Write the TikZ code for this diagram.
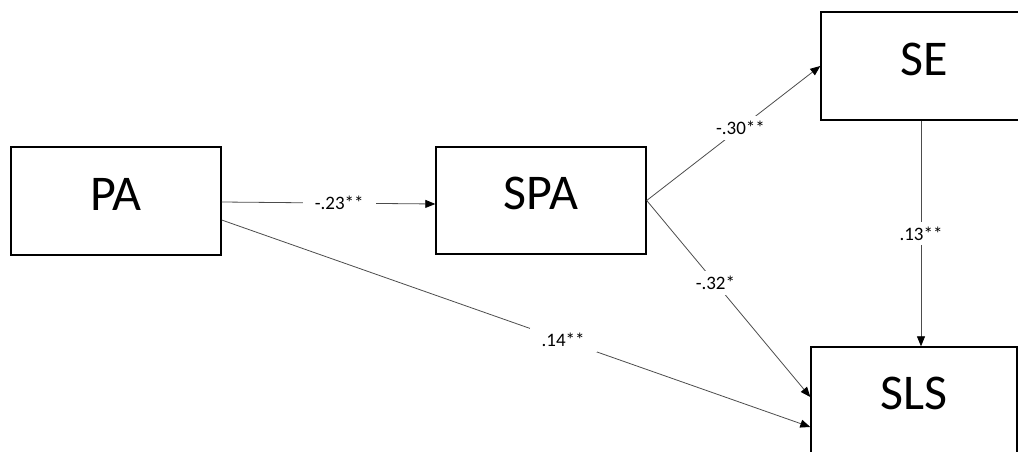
\documentclass[tikz,border=0pt]{standalone}
\usepackage{fontspec}
\setmainfont{Carlito}
\usetikzlibrary{arrows.meta}
\begin{document}
\begin{tikzpicture}[x=1pt,y=-1pt,
  box/.style={draw,line width=1.4pt,minimum width=210pt,minimum height=108pt,
    inner sep=0pt,text depth=14pt,font=\fontsize{50}{50}\selectfont},
  path/.style={draw=black!70,line width=0.8pt,-{Triangle[length=10pt,width=8pt,color=black]}},
  coef/.style={fill=white,inner xsep=12pt,inner ysep=5pt,font=\fontsize{19}{20}\selectfont}]
  \useasboundingbox (0,0) rectangle (1018,452);
  \clip (0,0) rectangle (1018,452);
  \node[box] (pa) at (116,201) {PA};
  \node[box,minimum height=107pt] (spa) at (541,200.5) {SPA};
  \node[box,minimum width=206pt] (se) at (924,66) {SE};
  \node[box,minimum width=206pt,minimum height=106pt] (sls) at (914,400) {SLS};
  \draw[path] ([yshift=-1pt]pa.east) -- node[coef,pos=0.55] {-.23**} ([yshift=-3.5pt]spa.west);
  \draw[path] ([yshift=-19pt]pa.east) -- node[coef,pos=0.58] {.14**} ([yshift=-27pt]sls.west);
  \draw[path] (spa.east) -- node[coef,pos=0.54] {-.30**} (se.west);
  \draw[path] (spa.east) -- node[coef,pos=0.42] {-.32*} ([yshift=3pt]sls.west);
  \draw[path] ([xshift=-3pt]se.south) -- node[coef,pos=0.5] {.13**} ([xshift=-3pt]se.south |- sls.north);
\end{tikzpicture}
\end{document}
